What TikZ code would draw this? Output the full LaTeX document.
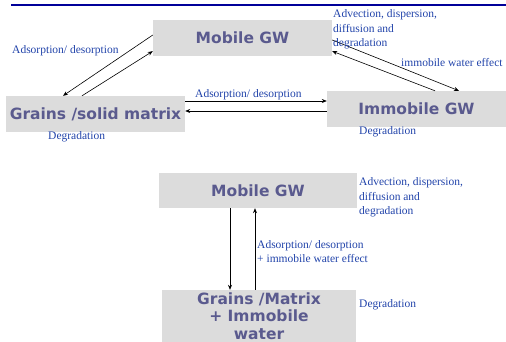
\documentclass[tikz,border=0pt]{standalone}
\usepackage{fontspec}
\setmainfont{Liberation Serif}
\newfontfamily\boxfont{DejaVu Sans}
\usetikzlibrary{arrows.meta}
\definecolor{boxfill}{HTML}{DCDCDC}
\definecolor{boxtext}{HTML}{5A5A8E}
\definecolor{lbl}{HTML}{2244AA}
\definecolor{topline}{HTML}{000099}
\tikzset{
  gbox/.style={fill=boxfill, draw=none, inner sep=0pt, align=center, text=boxtext,
    font=\boxfont\bfseries\fontsize{15.5}{17.5}\selectfont},
  lab/.style={text=lbl, inner sep=0pt, anchor=west, align=left,
    font=\fontsize{11.5}{14.5}\selectfont},
  arr/.style={draw=black, line width=0.6pt, -{Stealth[length=5pt,width=4pt]}}
}
\begin{document}
\begin{tikzpicture}[x=1pt,y=-1pt]
\useasboundingbox (0,0) rectangle (506,342);
\draw[topline, line width=2pt] (11,5) -- (506,5);
% top diagram
\node[gbox, minimum width=179pt, minimum height=36pt] (mobT) at (242.5,38) {Mobile GW};
\node[gbox, minimum width=179pt, minimum height=36pt] (gr) at (95.5,114) {Grains /solid matrix};
\node[gbox, minimum width=179pt, minimum height=36pt] (imm) at (416.5,109) {Immobile GW};
\draw[arr] ([yshift=3pt]mobT.west) -- ([xshift=-32.5pt]gr.north);
\draw[arr] ([xshift=-13.5pt]gr.north) -- ([yshift=5pt]mobT.south west);
\draw[arr] ([yshift=13pt]gr.east) -- ([yshift=8pt]imm.west);
\draw[arr] ([yshift=-2pt]imm.west) -- ([yshift=3pt]gr.east);
\draw[arr] ([yshift=-2pt]mobT.east) -- ([xshift=42.5pt]imm.north);
\draw[arr] ([xshift=18.5pt]imm.north) -- ([yshift=5pt]mobT.south east);
\node[lab] (l1) at (12,51) {Adsorption/ desorption};
\node[lab] (l2) at (48,137) {Degradation};
\node[lab] (l3) at (195,95) {Adsorption/ desorption};
\node[lab] (l4) at (333,29.5) {Advection, dispersion,\\diffusion and\\degradation};
\node[lab] (l5) at (401,63) {immobile water effect};
\node[lab] (l6) at (359,132) {Degradation};
% bottom diagram
\node[gbox, minimum width=198pt, minimum height=35pt] (mobB) at (258,190.5) {Mobile GW};
\node[gbox, minimum width=194pt, minimum height=52pt] (grB) at (259,316) {Grains /Matrix\\+ Immobile\\water};
\draw[arr] ([xshift=-28pt]mobB.south) -- ([xshift=-28pt]mobB.south |- grB.north);
\draw[arr] ([xshift=-3pt]mobB.south |- grB.north) -- ([xshift=-3pt]mobB.south);
\node[lab] (l7) at (359,197.5) {Advection, dispersion,\\diffusion and\\degradation};
\node[lab] (l8) at (257,251.5) {Adsorption/ desorption\\+ immobile water effect};
\node[lab] (l9) at (359,305) {Degradation};
\end{tikzpicture}
\end{document}
